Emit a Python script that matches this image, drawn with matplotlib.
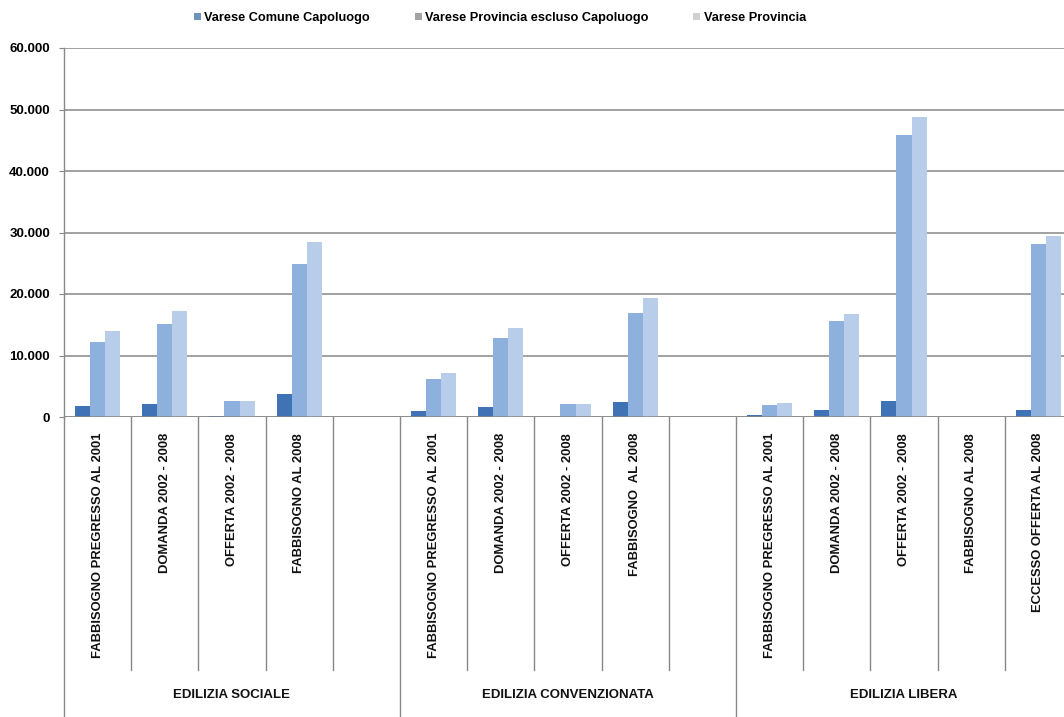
import matplotlib
matplotlib.use("Agg")
import matplotlib.pyplot as plt
from matplotlib.patches import Patch
from matplotlib.ticker import FuncFormatter, MultipleLocator
import matplotlib.transforms as mtransforms

plt.rcParams['font.family'] = ['Liberation Sans', 'DejaVu Sans']

# Category slots (empty string = spacer slot without bars)
categories = [
    "FABBISOGNO PREGRESSO AL 2001", "DOMANDA 2002 - 2008", "OFFERTA 2002 - 2008",
    "FABBISOGNO AL 2008", "",
    "FABBISOGNO PREGRESSO AL 2001", "DOMANDA 2002 - 2008", "OFFERTA 2002 - 2008",
    "FABBISOGNO  AL 2008", "",
    "FABBISOGNO PREGRESSO AL 2001", "DOMANDA 2002 - 2008", "OFFERTA 2002 - 2008",
    "FABBISOGNO AL 2008", "ECCESSO OFFERTA AL 2008",
]
groups = ["EDILIZIA SOCIALE", "EDILIZIA CONVENZIONATA", "EDILIZIA LIBERA"]

series_names = ["Varese Comune Capoluogo",
                "Varese Provincia escluso Capoluogo",
                "Varese Provincia"]

comune = [1800, 2100, 100, 3700, 0,
          950, 1600, 50, 2400, 0,
          300, 1100, 2600, 0, 1100]
prov_escl = [12200, 15100, 2550, 24900, 0,
             6200, 12850, 2050, 16950, 0,
             2000, 15600, 45900, 0, 28100]
provincia = [14000, 17200, 2650, 28450, 0,
             7200, 14400, 2100, 19300, 0,
             2200, 16800, 48700, 0, 29400]

bar_colors = ["#3f73b6", "#8db0dd", "#b8cdea"]
legend_colors = ["#6f93bd", "#a3a3a3", "#d0d0d0"]

fig = plt.figure(figsize=(10.64, 7.17), dpi=100)
W, H = 1064, 717
x0, y0_px, ytop_px = 64, 417, 48
slot_w = 67.2
n = len(categories)
ax = fig.add_axes([x0 / W, (H - y0_px) / H, n * slot_w / W, (y0_px - ytop_px) / H])

bw = 0.225
xs = list(range(n))
for i, (vals, col) in enumerate(zip([comune, prov_escl, provincia], bar_colors)):
    ax.bar([x + (i - 1) * bw for x in xs], vals, width=bw, color=col,
           edgecolor="none", zorder=3)

ax.set_xlim(-0.5, n - 0.5)
ax.set_ylim(0, 60000)
ax.yaxis.set_major_locator(MultipleLocator(10000))
ax.yaxis.set_major_formatter(FuncFormatter(lambda v, p: f"{int(v):,}".replace(",", ".")))
ax.grid(axis="y", color="#888888", linewidth=1.1, zorder=0)
ax.set_axisbelow(True)
for s in ["top", "right", "bottom"]:
    ax.spines[s].set_visible(False)
ax.spines["left"].set_color("#888888")
ax.spines["left"].set_linewidth(1.0)
ax.tick_params(axis="y", direction="out", length=3.6, color="#888888",
               labelsize=9.5, pad=6.5)
for lab in ax.get_yticklabels():
    lab.set_fontweight("bold")
ax.set_xticks([])
ax.axhline(0, color="#888888", linewidth=1.1, zorder=4)

trans = mtransforms.blended_transform_factory(ax.transData, ax.transAxes)
ax_h = y0_px - ytop_px
sep_bottom = -(670 - y0_px) / ax_h
grp_bottom = -(H - y0_px + 2) / ax_h

# slot and group separators below the axis
for k in range(1, n):
    xb = k - 0.5
    yb = grp_bottom if k % 5 == 0 else sep_bottom
    ax.plot([xb, xb], [0, yb], transform=trans, color="#888888",
            linewidth=1.0, clip_on=False)
ax.plot([-0.5, -0.5], [0, grp_bottom], transform=trans, color="#888888",
        linewidth=1.0, clip_on=False)

label_top = -(433 - y0_px) / ax_h
for x, lab in zip(xs, categories):
    if lab:
        ax.text(x, label_top, lab, transform=trans, rotation=90, ha="center",
                va="top", fontsize=9.4, fontweight="bold", color="#111111")

group_y = -(695 - y0_px) / ax_h
for g, lab in enumerate(groups):
    ax.text(g * 5 + 2, group_y, lab, transform=trans, ha="center", va="center",
            fontsize=9.5, fontweight="bold", color="#111111")

handles = [Patch(facecolor=c, edgecolor="none") for c in legend_colors]
fig.legend(handles, series_names, loc="center", ncol=3,
           bbox_to_anchor=(500 / W, 1 - 18 / H), frameon=False,
           prop={"size": 9.2, "weight": "bold"}, handlelength=0.55,
           handleheight=0.55, handletextpad=0.25, columnspacing=3.5)

fig.savefig("out.png", dpi=100)
